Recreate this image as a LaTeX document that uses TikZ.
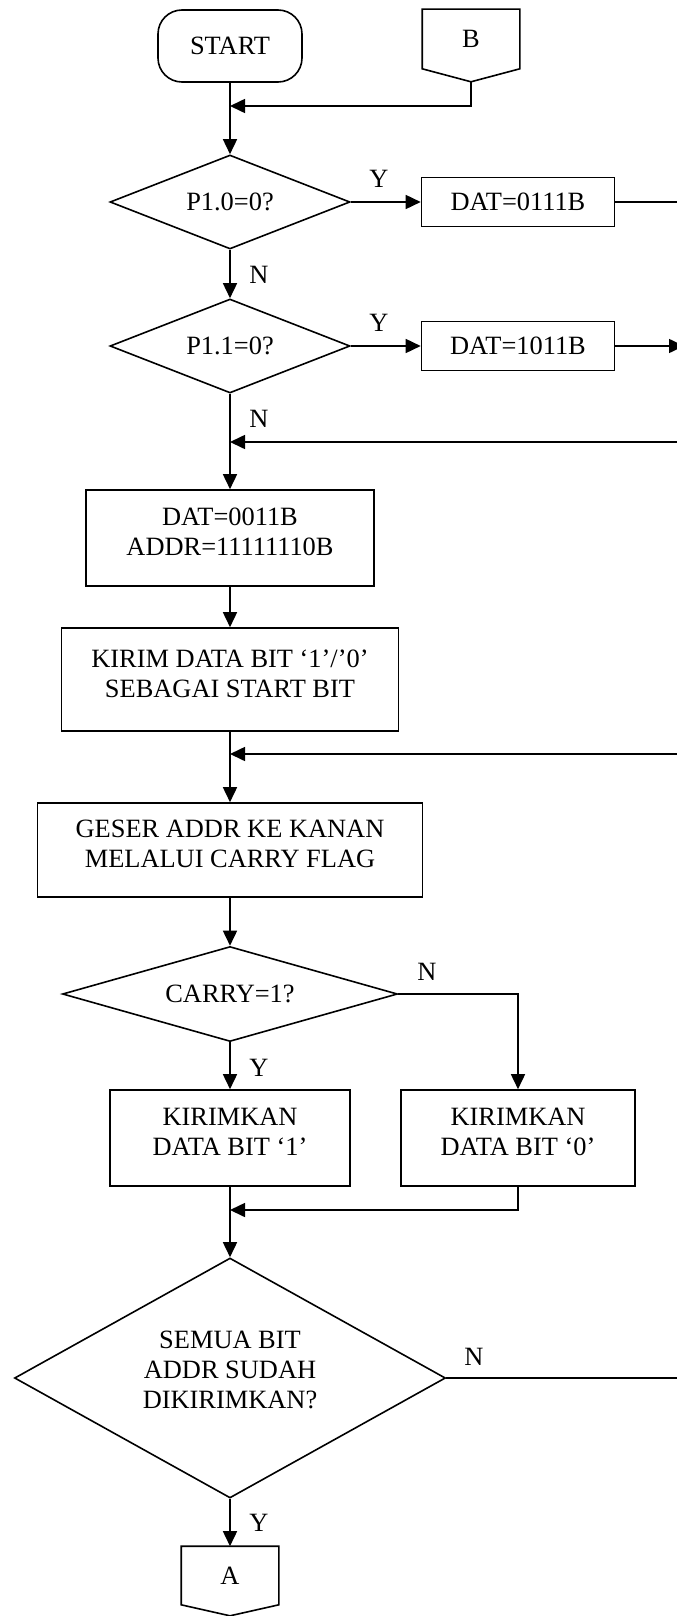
\documentclass[tikz,border=0pt]{standalone}
\usepackage{fontspec}
\setmainfont{Liberation Serif}
\usetikzlibrary{shapes.geometric, arrows.meta}

\begin{document}
\begin{tikzpicture}[x=0.5pt, y=-0.5pt, line width=0.8pt, >={Triangle[length=7.5pt,width=7pt]}, font=\fontsize{13.2}{15}\selectfont]
    %flowchart kirim data
\tikzset{
    proses/.style={draw, rectangle, align=center, inner sep=0pt},
    keputusan/.style={draw, diamond, align=center, inner sep=0pt},
    konektor/.style={rectangle, inner sep=0pt, minimum width=48pt, minimum height=29pt}
}
    \useasboundingbox (0,0) rectangle (676,1616);

    \node[draw, rounded corners=12pt, minimum width=72pt, minimum height=36pt](Start) at (230,46) {START};
    \node[konektor](B) at (471,39) {B};
    \draw (B.north west) -- (B.north east) -- (B.south east) -- ([yshift=-6.5pt]B.south) -- (B.south west) -- cycle;

    \node[keputusan, aspect=2.55, minimum width=120pt, minimum height=47pt](P10) at (230,202) {P1.0=0?};
    \node[proses, minimum width=96.5pt, minimum height=24.5pt](Dat1) at (518,202) {DAT=0111B};
    \node[keputusan, aspect=2.55, minimum width=120pt, minimum height=47pt](P11) at (230,346) {P1.1=0?};
    \node[proses, minimum width=96.5pt, minimum height=24.5pt](Dat2) at (518,346) {DAT=1011B};
    \node[proses, minimum width=144pt, minimum height=48pt, text depth=6pt](Init) at (230,538) {DAT=0011B\\ADDR=11111110B};
    \node[proses, minimum width=168.5pt, minimum height=51.5pt, text depth=6pt](StartBit) at (230,679.5) {KIRIM DATA BIT ‘1’/’0’\\SEBAGAI START BIT};
    \node[proses, minimum width=192.5pt, minimum height=47pt, text depth=6pt](Geser) at (230,850) {GESER ADDR KE KANAN\\MELALUI CARRY FLAG};
    \node[keputusan, aspect=3.5, minimum width=167.5pt, minimum height=47.5pt](Carry) at (230,994) {CARRY=1?};
    \node[proses, minimum width=120pt, minimum height=48pt, text depth=6pt](Kirim1) at (230,1138) {KIRIMKAN\\DATA BIT ‘1’};
    \node[proses, minimum width=117pt, minimum height=48pt, text depth=6pt](Kirim0) at (518,1138) {KIRIMKAN\\DATA BIT ‘0’};
    \node[keputusan, aspect=1.8, minimum width=215.5pt, minimum height=120pt, text depth=8pt](Semua) at (230,1378) {SEMUA BIT\\ADDR SUDAH\\DIKIRIMKAN?};
    \node[konektor, minimum height=28.5pt](A) at (230,1575.5) {A};
    \draw (A.north west) -- (A.north east) -- (A.south east) -- ([yshift=-5.5pt]A.south) -- (A.south west) -- cycle;

    % titik sambungan
    \coordinate (mB) at (230,106);
    \coordinate (mN) at (230,442);
    \coordinate (mLoop) at (230,754);
    \coordinate (mBit) at (230,1210);
    \coordinate (kanan1) at (680,202);
    \coordinate (kanan2) at (684,346);
    \coordinate (kanan3) at (680,442);
    \coordinate (kanan4) at (680,754);
    \coordinate (kanan5) at (680,1378);

    \draw[->] (Start.south) -- (P10.north);
    \draw[->] ([yshift=-6.5pt]B.south) |- (mB);
    \draw[->] (P10.east) -- (Dat1.west);
    \draw (Dat1.east) -- (kanan1);
    \draw[->] (P10.south) -- (P11.north);
    \draw[->] (P11.east) -- (Dat2.west);
    \draw[->] (Dat2.east) -- (kanan2);
    \draw[->] (P11.south) -- (Init.north);
    \draw[->] (kanan3) -- (mN);
    \draw[->] (Init.south) -- (StartBit.north);
    \draw[->] (StartBit.south) -- (Geser.north);
    \draw[->] (kanan4) -- (mLoop);
    \draw[->] (Geser.south) -- (Carry.north);
    \draw[->] (Carry.south) -- (Kirim1.north);
    \draw[->] (Carry.east) -| (Kirim0.north);
    \draw[->] (Kirim1.south) -- (Semua.north);
    \draw[->] (Kirim0.south) |- (mBit);
    \draw (Semua.east) -- (kanan5);
    \draw[->] (Semua.south) -- (A.north);

    \node(Y1) at (379,179) {Y};
    \node(N1) at (259,275) {N};
    \node(Y2) at (379,323) {Y};
    \node(N2) at (259,419) {N};
    \node(N3) at (427,972) {N};
    \node(Y3) at (259,1068) {Y};
    \node(N4) at (474,1357) {N};
    \node(Y4) at (259,1523) {Y};
\end{tikzpicture}
\end{document}
